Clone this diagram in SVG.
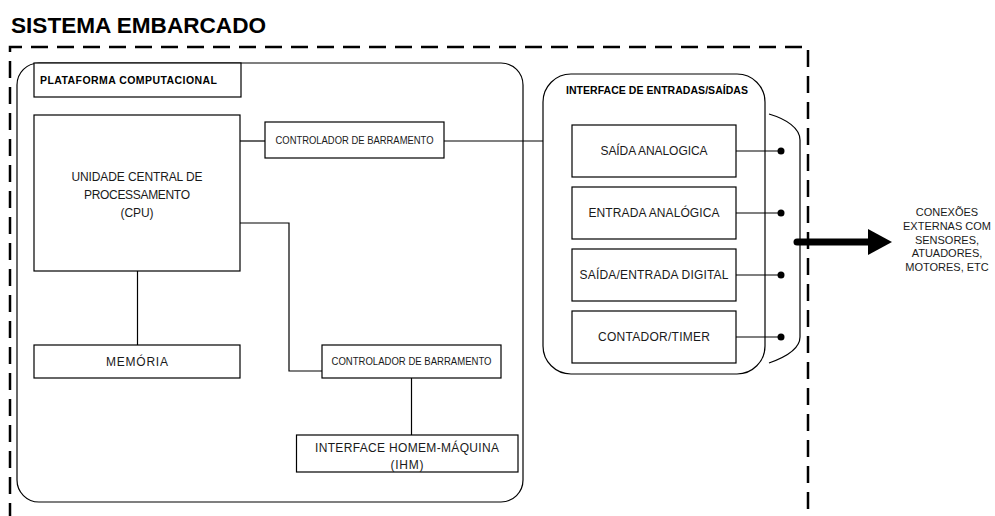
<svg xmlns="http://www.w3.org/2000/svg" width="995" height="516" viewBox="0 0 995 516">
  <style>
    .box { fill: #ffffff; stroke: #000000; stroke-width: 1.2; }
    .frame { fill: #ffffff; stroke: #000000; stroke-width: 1.2; }
    .wire { fill: none; stroke: #000000; stroke-width: 1.2; }
    .lbl { font-family: "Liberation Sans", Arial, sans-serif; font-size: 12px; fill: #1a1a1a; text-anchor: middle; }
    .small { font-family: "Liberation Sans", Arial, sans-serif; font-size: 10.5px; fill: #1a1a1a; text-anchor: middle; }
    .ext { font-family: "Liberation Sans", Arial, sans-serif; font-size: 11px; fill: #1a1a1a; text-anchor: middle; }
    .head { font-family: "Liberation Sans", Arial, sans-serif; font-size: 10.5px; font-weight: bold; fill: #000000; }
    .title { font-family: "Liberation Sans", Arial, sans-serif; font-size: 22px; font-weight: bold; fill: #000000; }
    .dot { fill: #000000; }
  </style>
  <rect width="995" height="516" fill="#ffffff"/>

  <!-- system boundary -->
  <g id="sistema-embarcado">
    <text class="title" x="11" y="33" textLength="255" lengthAdjust="spacingAndGlyphs">SISTEMA EMBARCADO</text>
    <path d="M10,520 V47 H808 V520" fill="none" stroke="#000000" stroke-width="2.5" stroke-dasharray="17 9"/>
  </g>

  <!-- computing platform container -->
  <g id="plataforma">
    <rect class="frame" x="17" y="63" width="506" height="439" rx="22" ry="22"/>
    <rect class="box" x="34" y="63" width="207" height="34"/>
    <text class="head" x="40" y="84" textLength="177">PLATAFORMA COMPUTACIONAL</text>
  </g>

  <!-- I/O interface container -->
  <g id="interface-io">
    <rect class="frame" x="543" y="74" width="222" height="300" rx="28" ry="28"/>
    <text class="head" x="566" y="94" textLength="182">INTERFACE DE ENTRADAS/SAÍDAS</text>
  </g>

  <!-- connectors -->
  <g id="connectors">
    <path class="wire" d="M240,141 H265"/>
    <path class="wire" d="M444,141 H543"/>
    <path class="wire" d="M240,223 H289 V371 H322"/>
    <path class="wire" d="M137.5,271 V345"/>
    <path class="wire" d="M411.5,378 V435"/>
    <path class="wire" d="M736,151 H781"/>
    <path class="wire" d="M736,213 H781"/>
    <path class="wire" d="M736,275 H781"/>
    <path class="wire" d="M736,337 H781"/>
    <circle class="dot" cx="781" cy="151" r="3.5"/>
    <circle class="dot" cx="781" cy="213" r="3.5"/>
    <circle class="dot" cx="781" cy="275" r="3.5"/>
    <circle class="dot" cx="781" cy="337" r="3.5"/>
    <!-- connector bracket -->
    <path class="wire" d="M769,114 C786,119 800,128 800,140 V337 C800,349 786,357 769,363"/>
    <!-- external output arrow -->
    <path d="M797,242 H870" fill="none" stroke="#000000" stroke-width="7" stroke-linecap="round"/>
    <polygon points="868,229 892,242 868,255" fill="#000000"/>
  </g>

  <g id="cpu">
    <rect class="box" x="34" y="115" width="206" height="156"/>
    <text class="lbl" x="137" y="180.5" textLength="131">UNIDADE CENTRAL DE</text>
    <text class="lbl" x="137" y="198.5" textLength="106">PROCESSAMENTO</text>
    <text class="lbl" x="137" y="216.5" textLength="33">(CPU)</text>
  </g>

  <g id="controlador-barramento-1">
    <rect class="box" x="265" y="122" width="179" height="36"/>
    <text class="small" x="354.5" y="143.8" textLength="158" lengthAdjust="spacingAndGlyphs">CONTROLADOR DE BARRAMENTO</text>
  </g>

  <g id="memoria">
    <rect class="box" x="34" y="345" width="206" height="33"/>
    <text class="lbl" x="137" y="365.5" textLength="62">MEMÓRIA</text>
  </g>

  <g id="controlador-barramento-2">
    <rect class="box" x="322" y="345" width="179" height="33"/>
    <text class="small" x="411.5" y="365.3" textLength="160" lengthAdjust="spacingAndGlyphs">CONTROLADOR DE BARRAMENTO</text>
  </g>

  <g id="ihm">
    <rect class="box" x="296.5" y="435" width="221.5" height="37"/>
    <text class="lbl" x="407" y="451.5" textLength="184">INTERFACE HOMEM-MÁQUINA</text>
    <text class="lbl" x="407" y="469" textLength="33">(IHM)</text>
  </g>

  <g id="saida-analogica">
    <rect class="box" x="572" y="125" width="164" height="52"/>
    <text class="lbl" x="654" y="155" textLength="107">SAÍDA ANALOGICA</text>
  </g>

  <g id="entrada-analogica">
    <rect class="box" x="572" y="187" width="164" height="52"/>
    <text class="lbl" x="654" y="217" textLength="131">ENTRADA ANALÓGICA</text>
  </g>

  <g id="saida-entrada-digital">
    <rect class="box" x="572" y="249" width="164" height="52"/>
    <text class="lbl" x="654" y="279" textLength="149">SAÍDA/ENTRADA DIGITAL</text>
  </g>

  <g id="contador-timer">
    <rect class="box" x="572" y="311" width="164" height="52"/>
    <text class="lbl" x="654" y="341" textLength="112">CONTADOR/TIMER</text>
  </g>

  <g id="conexoes-externas">
    <text class="ext" x="947" y="216">CONEXÕES</text>
    <text class="ext" x="947" y="230">EXTERNAS COM</text>
    <text class="ext" x="947" y="244">SENSORES,</text>
    <text class="ext" x="947" y="257">ATUADORES,</text>
    <text class="ext" x="947" y="271">MOTORES, ETC</text>
  </g>
</svg>
